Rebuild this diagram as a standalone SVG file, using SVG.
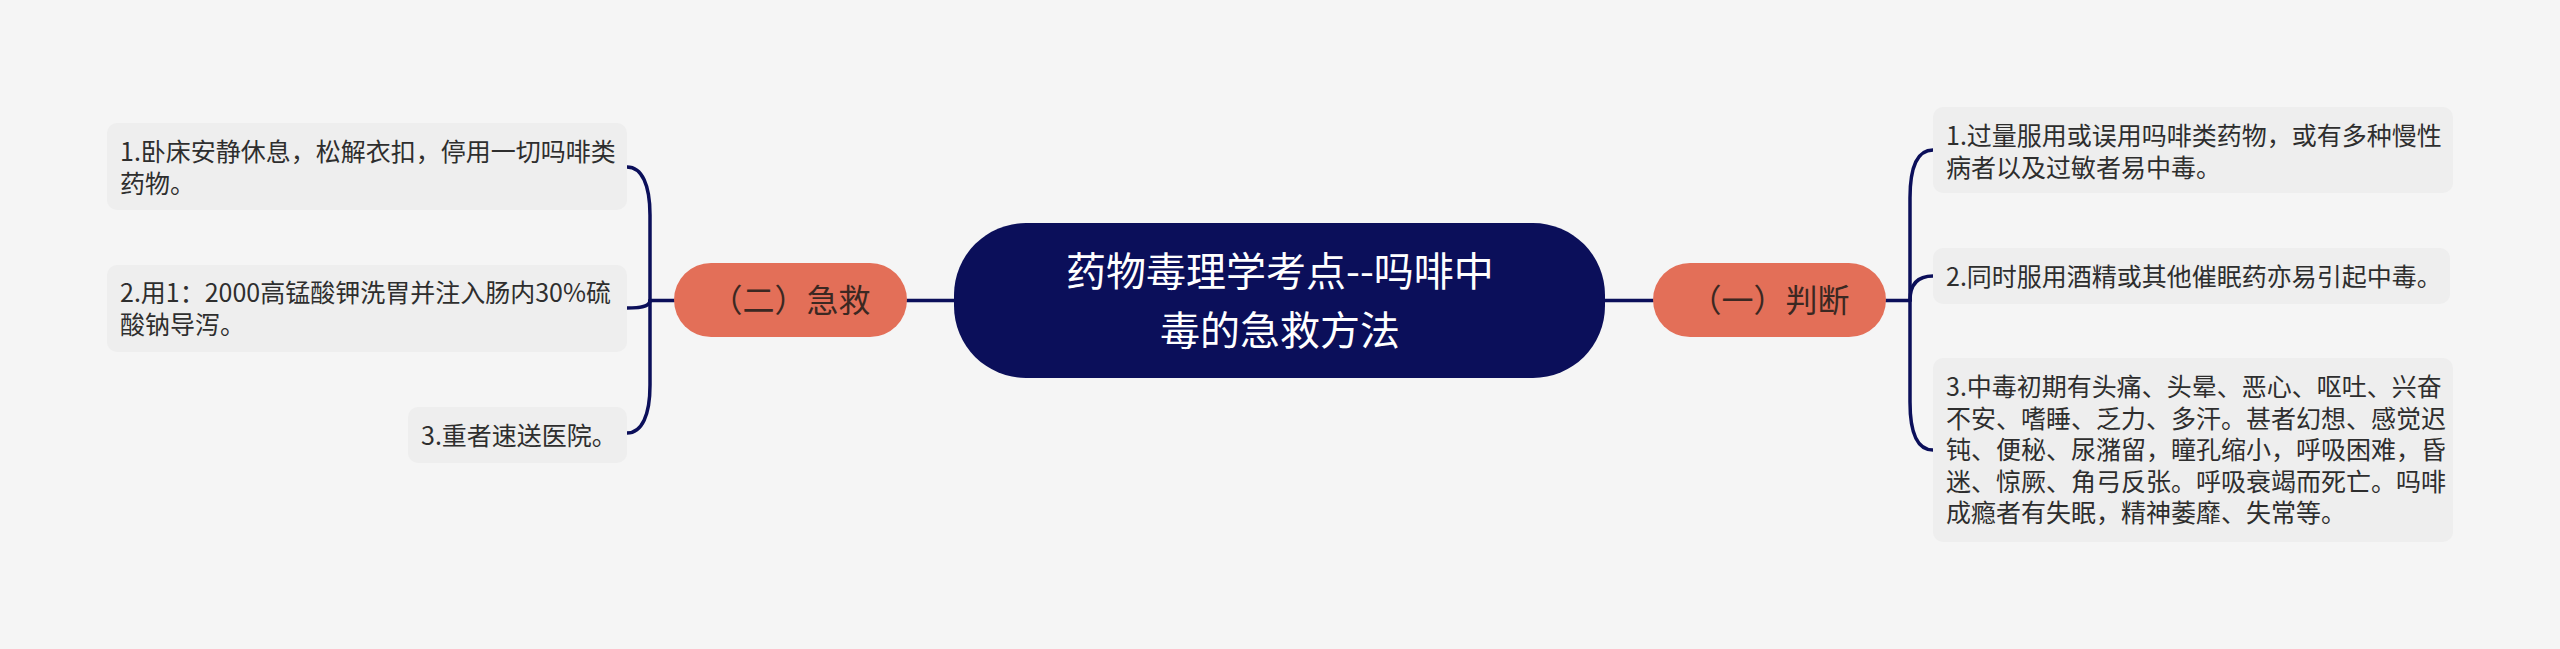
<svg xmlns="http://www.w3.org/2000/svg" width="2560" height="649" viewBox="0 0 2560 649">
  <style>
    .bg { fill: #f5f5f5; }
    .leaf rect { fill: #eeeeee; }
    .leaf text { font-family: "Noto Sans CJK SC", "Noto Sans", sans-serif; font-size: 25px; fill: #2e2e2e; }
    .branch rect { fill: #e36f58; }
    .branch text { font-family: "Noto Sans CJK SC", "Noto Sans", sans-serif; font-size: 32px; fill: #3b2822; text-anchor: middle; }
    .root rect { fill: #0b0f5a; }
    .root text { font-family: "Noto Sans CJK SC", "Noto Sans", sans-serif; font-size: 40px; fill: #ffffff; text-anchor: middle; }
    .links path { fill: none; stroke: #0b0f5a; stroke-width: 3.5; stroke-linecap: round; }
  </style>
  <rect class="bg" x="0" y="0" width="2560" height="649"/>

  <g id="connectors" class="links">
    <path d="M 954 300.5 L 907 300.5"/>
    <path d="M 1605 300.5 L 1653 300.5"/>
    <path d="M 674 300.5 L 650 300.5"/>
    <path d="M 650 300.5 L 650 215 C 650 185, 642 167, 627 167"/>
    <path d="M 650 300.5 C 650 305, 646 308, 627 308"/>
    <path d="M 650 300.5 L 650 385 C 650 415, 642 433, 627 433"/>
    <path d="M 1886 300.5 L 1910 300.5"/>
    <path d="M 1910 300.5 L 1910 198 C 1910 168, 1917 150, 1933 150"/>
    <path d="M 1910 300.5 C 1910 286, 1916 276, 1933 276"/>
    <path d="M 1910 300.5 L 1910 402 C 1910 432, 1917 450, 1933 450"/>
  </g>

  <g id="root" class="root">
    <rect x="954" y="223" width="651" height="155" rx="72" ry="72"/>
    <text x="1280" y="286">药物毒理学考点--吗啡中</text>
    <text x="1280" y="344.5">毒的急救方法</text>
  </g>

  <g id="branch-left" class="branch">
    <rect x="674" y="263" width="233" height="74" rx="37" ry="37"/>
    <text x="790.5" y="312">（二）急救</text>
  </g>

  <g id="branch-right" class="branch">
    <rect x="1653" y="263" width="233" height="74" rx="37" ry="37"/>
    <text x="1769.5" y="312">（一）判断</text>
  </g>

  <g id="left-1" class="leaf">
    <rect x="107" y="123" width="520" height="87" rx="10" ry="10"/>
    <text x="120" y="161">1.卧床安静休息，松解衣扣，停用一切吗啡类</text>
    <text x="120" y="192.5">药物。</text>
  </g>

  <g id="left-2" class="leaf">
    <rect x="107" y="265" width="520" height="87" rx="10" ry="10"/>
    <text x="120" y="302">2.用1：2000高锰酸钾洗胃并注入肠内30%硫</text>
    <text x="120" y="333.5">酸钠导泻。</text>
  </g>

  <g id="left-3" class="leaf">
    <rect x="408" y="407" width="219" height="56" rx="10" ry="10"/>
    <text x="421" y="445">3.重者速送医院。</text>
  </g>

  <g id="right-1" class="leaf">
    <rect x="1933" y="107" width="520" height="86" rx="10" ry="10"/>
    <text x="1946" y="145">1.过量服用或误用吗啡类药物，或有多种慢性</text>
    <text x="1946" y="176.5">病者以及过敏者易中毒。</text>
  </g>

  <g id="right-2" class="leaf">
    <rect x="1933" y="248" width="517" height="56" rx="10" ry="10"/>
    <text x="1946" y="286">2.同时服用酒精或其他催眠药亦易引起中毒。</text>
  </g>

  <g id="right-3" class="leaf">
    <rect x="1933" y="358" width="520" height="184" rx="10" ry="10"/>
    <text x="1946" y="396">3.中毒初期有头痛、头晕、恶心、呕吐、兴奋</text>
    <text x="1946" y="427.5">不安、嗜睡、乏力、多汗。甚者幻想、感觉迟</text>
    <text x="1946" y="459">钝、便秘、尿潴留，瞳孔缩小，呼吸困难，昏</text>
    <text x="1946" y="490.5">迷、惊厥、角弓反张。呼吸衰竭而死亡。吗啡</text>
    <text x="1946" y="522">成瘾者有失眠，精神萎靡、失常等。</text>
  </g>
</svg>
